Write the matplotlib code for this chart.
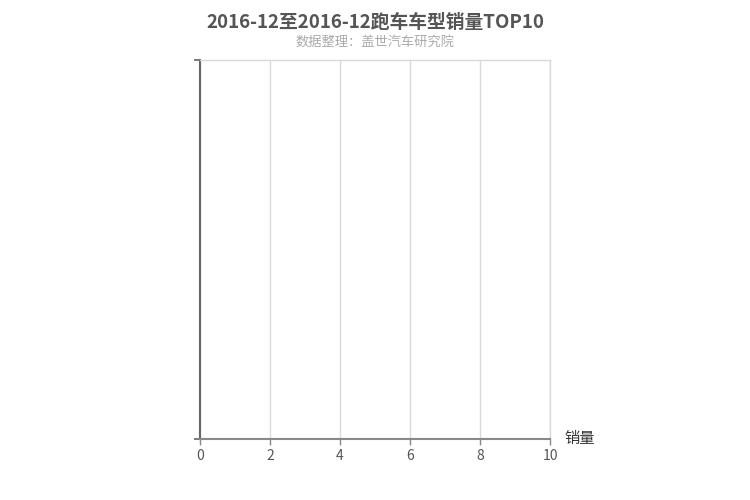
import matplotlib
matplotlib.use('Agg')
import matplotlib.pyplot as plt

plt.rcParams['font.family'] = ['Noto Sans CJK SC', 'DejaVu Sans']

# No models in this period: the chart is empty
models = []
sales = []
x_ticks = [0, 2, 4, 6, 8, 10]

fig = plt.figure(figsize=(7.5, 5), dpi=100)
ax = fig.add_axes([200 / 750, 61 / 500, 350 / 750, 379 / 500])

ax.barh(models, sales, color='#5b9bd5')

ax.set_xlim(0, 10)
ax.set_ylim(0, 1)
ax.set_xticks(x_ticks)
ax.set_yticks([0, 1])
ax.set_yticklabels([])
ax.grid(axis='x', color='#d9d9d9', linewidth=1)
ax.set_axisbelow(True)

for side in ['top', 'right']:
    ax.spines[side].set_color('#d9d9d9')
    ax.spines[side].set_linewidth(1)
ax.spines['left'].set_color('#666666')
ax.spines['left'].set_linewidth(1.5)
ax.spines['bottom'].set_color('#888888')
ax.spines['bottom'].set_linewidth(1.5)

ax.tick_params(axis='x', colors='#888888', labelcolor='#555555', labelsize=10, length=4, width=1)
ax.tick_params(axis='y', colors='#666666', length=4, width=1.2)

ax.text(1.04, 0, '销量', transform=ax.transAxes, fontsize=11, color='#333333',
        ha='left', va='center')

fig.text(0.5, 0.975, '2016-12至2016-12跑车车型销量TOP10', ha='center', va='top',
         fontsize=13.5, fontweight='bold', color='#555555')
fig.text(0.5, 0.927, '数据整理：盖世汽车研究院', ha='center', va='top',
         fontsize=9.5, color='#aaaaaa')

fig.savefig('out.png', dpi=100)
